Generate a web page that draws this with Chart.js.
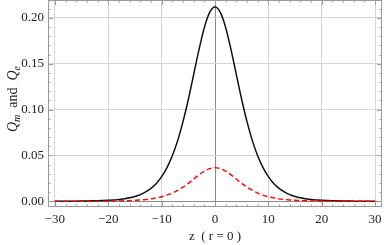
<!DOCTYPE html>
<html>
<head>
<meta charset="utf-8">
<script src="https://cdn.jsdelivr.net/npm/chart.js@4/dist/chart.umd.min.js"></script>
<style>
  html, body { margin: 0; padding: 0; background: #fff; }
</style>
</head>
<body>
<canvas id="chart" width="384" height="245"></canvas>
<script>
// z positions along the axis (r = 0)
var zValues = [
  -30, -29, -28, -27, -26, -25, -24, -23, -22, -21,
  -20, -19, -18, -17, -16, -15, -14, -13, -12, -11,
  -10, -9, -8, -7, -6, -5, -4, -3, -2, -1,
  0,
  1, 2, 3, 4, 5, 6, 7, 8, 9, 10,
  11, 12, 13, 14, 15, 16, 17, 18, 19, 20,
  21, 22, 23, 24, 25, 26, 27, 28, 29, 30
];

// Q_m, solid black
var qmValues = [
  0.0000, 0.0000, 0.0001, 0.0001, 0.0001, 0.0002, 0.0003, 0.0004, 0.0005, 0.0007,
  0.0010, 0.0014, 0.0019, 0.0027, 0.0037, 0.0052, 0.0072, 0.0101, 0.0140, 0.0194,
  0.0268, 0.0366, 0.0495, 0.0661, 0.0868, 0.1110, 0.1381, 0.1654, 0.1894, 0.2060,
  0.2120,
  0.2060, 0.1894, 0.1654, 0.1381, 0.1110, 0.0868, 0.0661, 0.0495, 0.0366, 0.0268,
  0.0194, 0.0140, 0.0101, 0.0072, 0.0052, 0.0037, 0.0027, 0.0019, 0.0014, 0.0010,
  0.0007, 0.0005, 0.0004, 0.0003, 0.0002, 0.0001, 0.0001, 0.0001, 0.0000, 0.0000
];

// Q_e, dashed red
var qeValues = [
  0.0000, 0.0000, 0.0000, 0.0000, 0.0000, 0.0000, 0.0000, 0.0000, 0.0001, 0.0001,
  0.0002, 0.0003, 0.0004, 0.0005, 0.0007, 0.0010, 0.0014, 0.0019, 0.0026, 0.0036,
  0.0049, 0.0066, 0.0089, 0.0118, 0.0154, 0.0195, 0.0242, 0.0288, 0.0328, 0.0356,
  0.0366,
  0.0356, 0.0328, 0.0288, 0.0242, 0.0195, 0.0154, 0.0118, 0.0089, 0.0066, 0.0049,
  0.0036, 0.0026, 0.0019, 0.0014, 0.0010, 0.0007, 0.0005, 0.0004, 0.0003, 0.0002,
  0.0001, 0.0001, 0.0000, 0.0000, 0.0000, 0.0000, 0.0000, 0.0000, 0.0000, 0.0000
];

var xTicks = [-30, -20, -10, 0, 10, 20, 30];
var yTicks = [0, 0.05, 0.10, 0.15, 0.20];
var xMinorTicks = [-28, -26, -24, -22, -18, -16, -14, -12, -8, -6, -4, -2,
                   2, 4, 6, 8, 12, 14, 16, 18, 22, 24, 26, 28];
var yMinorTicks = [0.01, 0.02, 0.03, 0.04, 0.06, 0.07, 0.08, 0.09, 0.11, 0.12,
                   0.13, 0.14, 0.16, 0.17, 0.18, 0.19, 0.21];

var serif = '"Liberation Serif", "DejaVu Serif", serif';

function toPoints(ys) {
  var pts = [];
  for (var i = 0; i < zValues.length; i++) {
    pts.push({x: zValues[i], y: ys[i]});
  }
  return pts;
}

function fixTicks(list) {
  return function(scale) {
    scale.ticks = list.map(function(v) { return {value: v}; });
  };
}

// frame, inward ticks and the axis titles (Mathematica style)
var framePlugin = {
  id: 'frame',
  afterDatasetsDraw: function(chart) {
    var ctx = chart.ctx;
    var a = chart.chartArea;
    var xs = chart.scales.x, ys = chart.scales.y;
    ctx.save();
    ctx.strokeStyle = '#9a9a9a';
    ctx.lineWidth = 1;
    ctx.strokeRect(a.left + 0.5, a.top + 0.5, a.right - a.left - 1, a.bottom - a.top - 1);

    ctx.beginPath();
    function xTick(v, len) {
      var px = Math.round(xs.getPixelForValue(v)) + 0.5;
      ctx.moveTo(px, a.bottom); ctx.lineTo(px, a.bottom - len);
      ctx.moveTo(px, a.top); ctx.lineTo(px, a.top + len);
    }
    function yTick(v, len) {
      var py = Math.round(ys.getPixelForValue(v)) + 0.5;
      ctx.moveTo(a.left, py); ctx.lineTo(a.left + len, py);
      ctx.moveTo(a.right, py); ctx.lineTo(a.right - len, py);
    }
    xTicks.forEach(function(v) { xTick(v, 5); });
    xMinorTicks.forEach(function(v) { xTick(v, 2.5); });
    yTicks.forEach(function(v) { yTick(v, 5); });
    yMinorTicks.forEach(function(v) { yTick(v, 2.5); });
    ctx.stroke();

    // x title
    ctx.fillStyle = '#222';
    ctx.font = '13px ' + serif;
    ctx.textAlign = 'center';
    ctx.textBaseline = 'alphabetic';
    ctx.fillText('z  ( r = 0 )', (a.left + a.right) / 2, 240);

    // y title: Q_m and Q_e, rotated
    var parts = [
      {t: 'Q', f: 'italic 14px ' + serif, dy: 0},
      {t: 'm', f: 'italic 10px ' + serif, dy: 3},
      {t: '  and  ', f: '14px ' + serif, dy: 0},
      {t: 'Q', f: 'italic 14px ' + serif, dy: 0},
      {t: 'e', f: 'italic 10px ' + serif, dy: 3}
    ];
    var total = 0;
    parts.forEach(function(p) { ctx.font = p.f; p.w = ctx.measureText(p.t).width; total += p.w; });
    ctx.translate(17, 99);
    ctx.rotate(-Math.PI / 2);
    ctx.textAlign = 'left';
    var x = -total / 2;
    parts.forEach(function(p) {
      ctx.font = p.f;
      ctx.fillText(p.t, x, p.dy);
      x += p.w;
    });
    ctx.restore();
  }
};

var ctx = document.getElementById('chart').getContext('2d');
var chart = new Chart(ctx, {
  type: 'line',
  data: {
    datasets: [
      {
        label: 'Q_e',
        data: toPoints(qeValues),
        borderColor: '#ff0000',
        borderWidth: 1.4,
        borderDash: [5, 3],
        pointRadius: 0,
        fill: false,
        cubicInterpolationMode: 'monotone'
      },
      {
        label: 'Q_m',
        data: toPoints(qmValues),
        borderColor: '#111111',
        borderWidth: 1.5,
        pointRadius: 0,
        fill: false,
        cubicInterpolationMode: 'monotone'
      }
    ]
  },
  options: {
    responsive: false,
    animation: false,
    layout: { padding: { left: 0, right: 2, top: 0, bottom: 0 } },
    plugins: { legend: { display: false }, tooltip: { enabled: false } },
    scales: {
      x: {
        type: 'linear',
        min: -31.3,
        max: 31.3,
        afterBuildTicks: fixTicks(xTicks),
        afterFit: function(scale) {
          scale.height = 38;
          scale.paddingLeft = 0; scale.paddingRight = 0;
        },
        border: { display: false },
        grid: {
          drawTicks: false,
          lineWidth: 1,
          color: function(c) { return c.tick && c.tick.value === 0 ? '#8a8a8a' : '#d6d6d6'; }
        },
        ticks: {
          padding: 5,
          maxRotation: 0,
          autoSkip: false,
          color: '#222',
          font: { family: serif, size: 13 },
          callback: function(v) { return v < 0 ? '\u2212' + Math.abs(v) : String(v); }
        }
      },
      y: {
        type: 'linear',
        min: -0.0063,
        max: 0.2195,
        afterBuildTicks: fixTicks(yTicks),
        afterFit: function(scale) {
          scale.width = 48;
          scale.paddingTop = 0; scale.paddingBottom = 0;
        },
        border: { display: false },
        grid: {
          drawTicks: false,
          lineWidth: 1,
          color: function(c) { return c.tick && c.tick.value === 0 ? '#8a8a8a' : '#d6d6d6'; }
        },
        ticks: {
          padding: 4,
          color: '#222',
          font: { family: serif, size: 13 },
          callback: function(v) { return v.toFixed(2); }
        }
      }
    }
  },
  plugins: [framePlugin]
});
</script>
</body>
</html>
